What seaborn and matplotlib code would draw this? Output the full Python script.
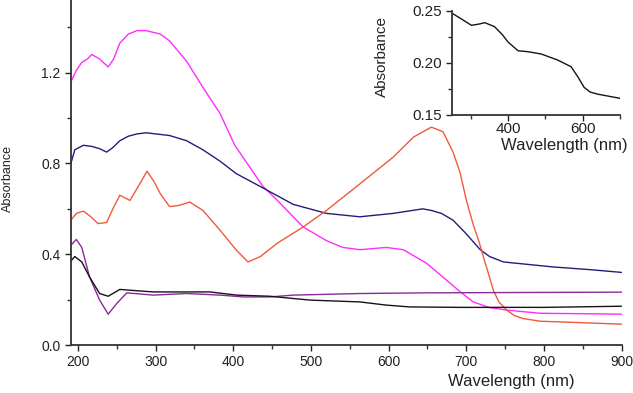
import numpy as np
import pandas as pd
import seaborn as sns
import matplotlib.pyplot as plt
from matplotlib.ticker import MultipleLocator

# values
magenta_wl = [191, 198, 205, 212, 218, 228, 239, 246, 254, 265, 276, 288, 306, 318, 340, 361,
              383, 402, 420, 438, 456, 490, 520, 541, 563, 597, 619, 649, 675, 692, 709, 730,
              752, 795, 850, 900]
magenta_abs = [1.16, 1.21, 1.245, 1.26, 1.28, 1.26, 1.225, 1.26, 1.33, 1.37, 1.385, 1.385, 1.37,
               1.34, 1.25, 1.135, 1.02, 0.88, 0.79, 0.70, 0.64, 0.52, 0.46, 0.43, 0.42, 0.43,
               0.42, 0.36, 0.285, 0.235, 0.19, 0.165, 0.154, 0.14, 0.138, 0.136]

navy_wl = [191, 196, 207, 218, 228, 237, 245, 254, 265, 276, 288, 318, 340, 361, 383, 404, 434,
           477, 520, 563, 606, 644, 655, 668, 683, 700, 718, 730, 748, 780, 812, 860, 900]
navy_abs = [0.80, 0.86, 0.88, 0.875, 0.865, 0.85, 0.87, 0.90, 0.92, 0.93, 0.935, 0.923, 0.90,
            0.86, 0.81, 0.755, 0.70, 0.62, 0.58, 0.565, 0.58, 0.60, 0.593, 0.58, 0.55, 0.49,
            0.42, 0.39, 0.366, 0.355, 0.344, 0.332, 0.32]

orange_wl = [191, 198, 207, 215, 226, 237, 245, 254, 267, 278, 289, 298, 306, 318, 330, 344, 361,
             383, 404, 419, 435, 456, 490, 520, 563, 606, 632, 655, 670, 683, 692, 700, 709, 716,
             722, 735, 742, 752, 762, 773, 795, 837, 900]
orange_abs = [0.55, 0.58, 0.59, 0.57, 0.535, 0.54, 0.60, 0.66, 0.637, 0.70, 0.766, 0.72, 0.667,
              0.61, 0.615, 0.63, 0.593, 0.506, 0.418, 0.366, 0.39, 0.447, 0.52, 0.593, 0.71,
              0.828, 0.916, 0.96, 0.94, 0.85, 0.76, 0.64, 0.53, 0.46, 0.39, 0.24, 0.19, 0.154,
              0.13, 0.117, 0.105, 0.10, 0.092]

purple_wl = [191, 198, 205, 215, 228, 239, 250, 263, 297, 340, 383, 413, 447, 477, 563, 649, 900]
purple_abs = [0.44, 0.465, 0.43, 0.30, 0.198, 0.136, 0.183, 0.23, 0.22, 0.227, 0.22, 0.212,
              0.212, 0.22, 0.227, 0.23, 0.233]

black_wl = [191, 196, 205, 215, 228, 239, 254, 297, 340, 370, 404, 447, 499, 563, 597, 627, 692,
            800, 900]
black_abs = [0.37, 0.39, 0.366, 0.30, 0.227, 0.215, 0.245, 0.234, 0.234, 0.234, 0.22, 0.215,
             0.198, 0.19, 0.176, 0.168, 0.166, 0.166, 0.171]

inset_wl = [253, 280, 302, 320, 338, 364, 385, 400, 427, 453, 489, 533, 569, 587, 604, 620, 640, 700]
inset_abs = [0.247, 0.241, 0.236, 0.237, 0.2385, 0.2347, 0.227, 0.22, 0.2116, 0.2107, 0.2085,
             0.2027, 0.1963, 0.1867, 0.1765, 0.172, 0.170, 0.166]

series = [
    (magenta_wl, magenta_abs, "#ff2cff"),
    (navy_wl, navy_abs, "#1f1f7c"),
    (orange_wl, orange_abs, "#f05a3a"),
    (purple_wl, purple_abs, "#8a2a9a"),
    (black_wl, black_abs, "#151515"),
]

sns.set_style("ticks")
plt.rcParams["font.family"] = ["Liberation Sans", "DejaVu Sans"]
spine_col = "#333333"


def style_axes(ax):
    for s in ["top", "right"]:
        ax.spines[s].set_visible(False)
    for s in ["left", "bottom"]:
        ax.spines[s].set_color(spine_col)
        ax.spines[s].set_linewidth(1.3)
    ax.tick_params(which="both", direction="out", color=spine_col, width=1.0)
    ax.tick_params(which="major", length=4)
    ax.tick_params(which="minor", length=3)


fig = plt.figure(figsize=(6.33, 3.93), dpi=100)
ax = fig.add_axes([0.112, 0.122, 0.870, 0.878])

for wl, ab, col in series:
    sns.lineplot(x=wl, y=ab, ax=ax, color=col, linewidth=1.0, sort=False)

ax.set_xlim(191, 900)
ax.set_ylim(0, 1.52)
ax.xaxis.set_major_locator(MultipleLocator(100))
ax.xaxis.set_minor_locator(MultipleLocator(50))
ax.yaxis.set_major_locator(MultipleLocator(0.4))
ax.yaxis.set_minor_locator(MultipleLocator(0.2))
ax.yaxis.set_major_formatter(plt.FuncFormatter(lambda v, p: f"{v:.1f}"))
style_axes(ax)
ax.tick_params(labelsize=10, colors="#222222", labelcolor="#222222")
ax.set_xlabel("Wavelength (nm)", fontsize=12, color="#222222")
ax.set_ylabel("Absorbance", fontsize=9, color="#222222")
ax.xaxis.label.set_verticalalignment("center")
ax.yaxis.label.set_verticalalignment("center")
ax.xaxis.set_label_coords(0.80, -0.107)
ax.yaxis.set_label_coords(-0.114, 0.484)

# inset
axi = fig.add_axes([0.714, 0.7074, 0.2654, 0.2654])
sns.lineplot(x=inset_wl, y=inset_abs, ax=axi, color="#151515", linewidth=1.0, sort=False)
axi.set_xlim(250, 700)
axi.set_ylim(0.15, 0.25)
axi.xaxis.set_major_locator(MultipleLocator(200))
axi.xaxis.set_minor_locator(MultipleLocator(100))
axi.yaxis.set_major_locator(MultipleLocator(0.05))
axi.yaxis.set_minor_locator(MultipleLocator(0.025))
axi.yaxis.set_major_formatter(plt.FuncFormatter(lambda v, p: f"{v:.2f}"))
style_axes(axi)
axi.patch.set_alpha(0)
axi.tick_params(labelsize=11, colors="#222222", labelcolor="#222222")
axi.tick_params(axis="x", pad=1)
axi.set_xlabel("Wavelength (nm)", fontsize=12, color="#222222")
axi.set_ylabel("Absorbance", fontsize=11, color="#222222")
axi.xaxis.label.set_verticalalignment("center")
axi.yaxis.label.set_verticalalignment("center")
axi.xaxis.set_label_coords(0.667, -0.29)
axi.yaxis.set_label_coords(-0.417, 0.556)

fig.savefig("out.png", dpi=100)
plt.close(fig)
